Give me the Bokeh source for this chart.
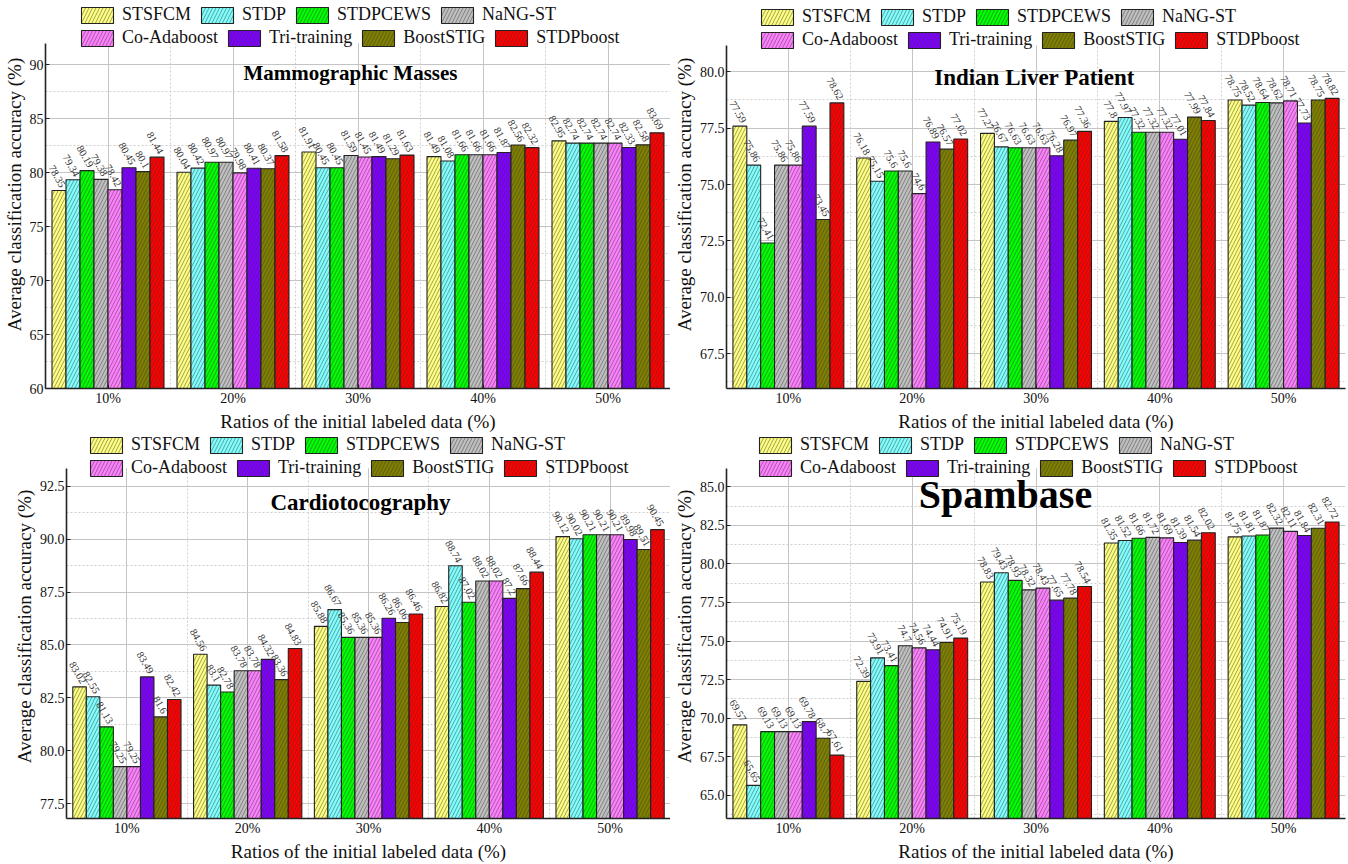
from bokeh.plotting import figure
from bokeh.models import (ColumnDataSource, Range1d, FixedTicker, Legend, LegendItem,
                          Label, NumeralTickFormatter, BoxAnnotation)
from bokeh.layouts import row, column
from bokeh.embed import file_html
from bokeh.resources import INLINE
from bokeh.core.properties import value

methods = ["STSFCM", "STDP", "STDPCEWS", "NaNG-ST", "Co-Adaboost", "Tri-training", "BoostSTIG", "STDPboost"]
ratios = ["10%", "20%", "30%", "40%", "50%"]
colors = ["#FFFF80", "#80FFFF", "#00FF00", "#C0C0C0", "#FF80FF", "#7F00FF", "#808000", "#FF0000"]

# values per ratio group (order of methods)
mammo = [
    [78.35, 79.34, 80.19, 79.38, 78.42, 80.45, 80.1, 81.44],
    [80.04, 80.42, 80.97, 80.97, 79.98, 80.41, 80.37, 81.58],
    [81.91, 80.45, 80.45, 81.59, 81.45, 81.49, 81.29, 81.63],
    [81.49, 81.08, 81.66, 81.66, 81.66, 81.87, 82.56, 82.32],
    [82.95, 82.74, 82.74, 82.74, 82.74, 82.33, 82.58, 83.69],
]
liver = [
    [77.59, 75.86, 72.41, 75.86, 75.86, 77.59, 73.45, 78.62],
    [76.18, 75.15, 75.6, 75.6, 74.6, 76.89, 76.57, 77.02],
    [77.27, 76.67, 76.63, 76.63, 76.63, 76.28, 76.97, 77.36],
    [77.8, 77.97, 77.32, 77.32, 77.32, 77.01, 77.99, 77.84],
    [78.75, 78.52, 78.64, 78.62, 78.71, 77.73, 78.75, 78.82],
]
cardio = [
    [83.02, 82.55, 81.13, 79.25, 79.25, 83.49, 81.6, 82.42],
    [84.56, 83.1, 82.78, 83.78, 83.78, 84.32, 83.36, 84.83],
    [85.88, 86.67, 85.36, 85.36, 85.36, 86.26, 86.06, 86.46],
    [86.82, 88.74, 87.02, 88.02, 88.02, 87.2, 87.66, 88.44],
    [90.12, 90.02, 90.21, 90.21, 90.21, 89.98, 89.51, 90.45],
]
spam = [
    [69.57, 65.65, 69.13, 69.13, 69.13, 69.78, 68.7, 67.61],
    [72.39, 73.91, 73.41, 74.7, 74.56, 74.44, 74.91, 75.19],
    [78.83, 79.43, 78.93, 78.32, 78.43, 77.65, 77.78, 78.54],
    [81.35, 81.52, 81.66, 81.72, 81.69, 81.39, 81.54, 82.02],
    [81.75, 81.81, 81.87, 82.32, 82.11, 81.84, 82.31, 82.72],
]

mammo_ticks = [60, 65, 70, 75, 80, 85, 90]
liver_ticks = [67.5, 70.0, 72.5, 75.0, 77.5, 80.0]
cardio_ticks = [77.5, 80.0, 82.5, 85.0, 87.5, 90.0, 92.5]
spam_ticks = [65.0, 67.5, 70.0, 72.5, 75.0, 77.5, 80.0, 82.5, 85.0]

SERIF = "Liberation Serif"
BB = 43  # bottom border in px


def make_panel(title, data, ylo, ytop, ticks, fmt, width, height, bl, br, top_px,
               title_pos, title_size, leg_x, leg_b1, leg_b2):
    frame_h = height - BB
    # extend range upward so that the axis area ends at top_px from the canvas top
    yend = ylo + (ytop - ylo) * frame_h / (frame_h - top_px)
    p = figure(width=width, height=height, x_range=Range1d(0.5, 5.5),
               y_range=Range1d(ylo, yend), output_backend="svg", toolbar_location=None,
               min_border_left=bl, min_border_right=br, min_border_top=0,
               min_border_bottom=BB)
    p.outline_line_color = None
    p.background_fill_color = "white"
    p.border_fill_color = "white"

    step = ticks[1] - ticks[0]
    minors = [t + step / 2 for t in ticks] + [ticks[0] - step / 2]
    p.yaxis.ticker = FixedTicker(ticks=ticks, minor_ticks=minors)
    if fmt:
        p.yaxis.formatter = NumeralTickFormatter(format=fmt)
    p.yaxis.bounds = (ylo, ytop)
    p.xaxis.ticker = FixedTicker(ticks=[1, 2, 3, 4, 5], minor_ticks=[1.5, 2.5, 3.5, 4.5])
    p.xaxis.major_label_overrides = {i + 1: r for i, r in enumerate(ratios)}

    for ax in (p.xaxis[0], p.yaxis[0]):
        ax.axis_line_color = "#222222"
        ax.axis_line_width = 1.6
        ax.major_tick_in = 4
        ax.major_tick_out = 0
        ax.minor_tick_in = 0
        ax.minor_tick_out = 0
        ax.major_tick_line_color = "#222222"
        ax.major_label_text_font = SERIF
        ax.major_label_text_font_size = "14px"
        ax.major_label_text_color = "#111111"
        ax.major_label_standoff = 2
        ax.axis_label_text_font = SERIF
        ax.axis_label_text_font_size = "19px"
        ax.axis_label_text_font_style = "normal"
        ax.axis_label_text_color = "#111111"
        ax.axis_label_standoff = 2
    p.xaxis.axis_label = "Ratios of the initial labeled data (%)"
    p.yaxis.axis_label = "Average classification accuracy (%)"

    for g in (p.xgrid[0], p.ygrid[0]):
        g.grid_line_color = "#c4c4c4"
        g.grid_line_width = 1
        g.minor_grid_line_color = "#cfcfcf"
        g.minor_grid_line_dash = "2 2"

    bw = 0.112
    rends = []
    for j, m in enumerate(methods):
        xs = [i + 1 + (j - 3.5) * bw for i in range(5)]
        ys = [data[i][j] for i in range(5)]
        src = ColumnDataSource(dict(x=xs, top=ys, lab=[f"{v:g}" for v in ys]))
        r = p.vbar(x="x", top="top", bottom=ylo, width=bw, source=src,
                   fill_color=colors[j], line_color="#222222", line_width=1.1,
                   hatch_pattern="/", hatch_color="#333333", hatch_alpha=0.6,
                   hatch_scale=7, hatch_weight=0.8)
        p.text(x="x", y="top", text="lab", source=src, angle=-60, angle_units="deg",
               text_align="right", text_baseline="middle",
               text_font=value(SERIF), text_font_size="10.5px", text_color="#333333",
               x_offset=4, y_offset=-4)
        rends.append(r)

    # blank the area above the plotting region (legend/headroom)
    p.add_layout(BoxAnnotation(bottom=ytop, fill_color="white", fill_alpha=1.0,
                               line_alpha=0))

    common = dict(orientation="horizontal", glyph_width=40, glyph_height=20,
                  label_height=20, label_text_font=SERIF, label_text_font_size="18px",
                  label_text_color="#111111", spacing=6, label_standoff=5,
                  padding=0, margin=0, border_line_alpha=0, background_fill_alpha=0)
    leg1 = Legend(items=[LegendItem(label=methods[j], renderers=[rends[j]]) for j in range(4)],
                  location=(leg_x, frame_h - leg_b1), **common)
    leg2 = Legend(items=[LegendItem(label=methods[j], renderers=[rends[j]]) for j in range(4, 8)],
                  location=(leg_x, frame_h - leg_b2), **common)
    p.add_layout(leg1)
    p.add_layout(leg2)

    p.add_layout(Label(x=title_pos[0], y=frame_h - title_pos[1], x_units="screen",
                       y_units="screen", text=title, text_font=SERIF,
                       text_font_style="bold", text_font_size=title_size,
                       text_align="center", text_baseline="middle", text_color="#000000"))
    return p


p1 = make_panel("Mammographic Masses", mammo, 60, 92.0, mammo_ticks, None, 670, 434,
                45, 0, 43, (305, 75), "21px", 32, 28, 51)
p2 = make_panel("Indian Liver Patient", liver, 65.96, 81.18, liver_ticks, "0.0", 678, 434,
                52, 3, 45, (308, 80), "23px", 31, 30, 53)
p3 = make_panel("Cardiotocography", cardio, 76.8, 93.35, cardio_ticks, "0.0", 670, 430,
                66, 0, 34, (294, 71), "23px", 20, 24, 47)
p4 = make_panel("Spambase", spam, 63.5, 86.2, spam_ticks, "0.0", 678, 430,
                53, 3, 34, (279, 63), "40px", 29, 24, 47)

layout = column(row(p1, p2), row(p3, p4))
open("out.html", "w").write(file_html(layout, INLINE))
